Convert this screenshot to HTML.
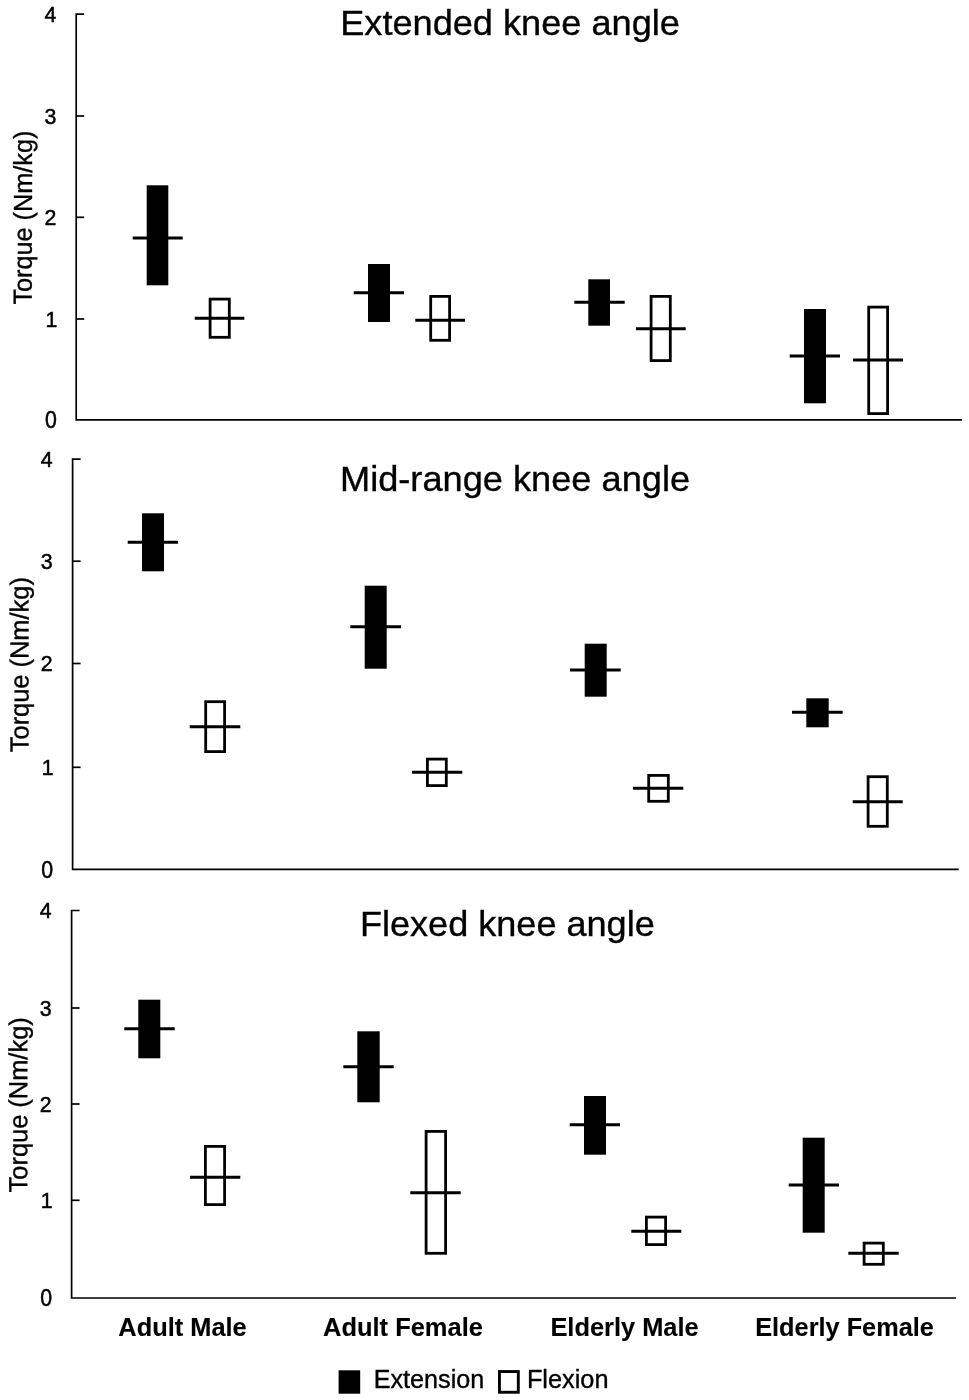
<!DOCTYPE html>
<html lang="en"><head><meta charset="utf-8"><title>Knee torque by group</title>
<style>html,body{margin:0;padding:0;background:#fff}body{width:969px;height:1400px;overflow:hidden}svg{display:block}text{font-family:"Liberation Sans",Arial,Helvetica,sans-serif;fill:#000;stroke:#000;stroke-width:.35px}.t{font-size:35.2px}.k{font-size:22.3px;text-anchor:end;stroke-width:.5px}.y{font-size:26.2px;text-anchor:middle}.x{font-size:25px;font-weight:bold;stroke-width:.12px}.l{font-size:25px}.a{stroke:#000;stroke-width:1.7;fill:none}.m{stroke:#000;stroke-width:2.9}.b{fill:#000}.w{fill:#fff;stroke:#000;stroke-width:2.8}</style></head><body>
<svg width="969" height="1400" viewBox="0 0 969 1400">
<rect width="969" height="1400" fill="#fff"/>
<g>
<path class="a" d="M84.2 14.2H76.2V419.8H962"/>
<path class="a" d="M76.2 116H84.2"/>
<path class="a" d="M76.2 217.3H84.2"/>
<path class="a" d="M76.2 319H84.2"/>
<text class="k" x="56.3" y="22.2" textLength="11.85" lengthAdjust="spacingAndGlyphs">4</text>
<text class="k" x="56.3" y="124" textLength="11.85" lengthAdjust="spacingAndGlyphs">3</text>
<text class="k" x="56.3" y="225.3" textLength="11.85" lengthAdjust="spacingAndGlyphs">2</text>
<text class="k" x="57.3" y="327" textLength="11.85" lengthAdjust="spacingAndGlyphs">1</text>
<text class="k" style="font-size:23.5px" x="56.8" y="428.3" textLength="11.85" lengthAdjust="spacingAndGlyphs">0</text>
<text class="t" x="340.2" y="35.2" textLength="339.7" lengthAdjust="spacingAndGlyphs">Extended knee angle</text>
<text class="y" transform="translate(31.9 217.6) rotate(-89.93)" textLength="174" lengthAdjust="spacingAndGlyphs">Torque (Nm/kg)</text>
<rect class="b" x="146.7" y="185.3" width="21.6" height="100"/>
<path class="m" d="M132.7 238H182.7"/>
<rect class="b" x="368" y="264" width="22" height="58"/>
<path class="m" d="M353.7 292.7H404"/>
<rect class="b" x="588.3" y="279.3" width="21.7" height="46.4"/>
<path class="m" d="M574.3 302.3H624.7"/>
<rect class="b" x="804" y="309" width="22" height="94.3"/>
<path class="m" d="M789.7 356H840"/>
<rect class="w" x="210.1" y="299.1" width="19.2" height="38.2"/>
<path class="m" d="M194.7 318.3H244.3"/>
<rect class="w" x="430.7" y="296.4" width="18.9" height="43.9"/>
<path class="m" d="M415.3 320.3H465"/>
<rect class="w" x="651.1" y="296.4" width="19.2" height="64.2"/>
<path class="m" d="M636 328.7H685.7"/>
<rect class="w" x="868.7" y="307.1" width="18.9" height="106.5"/>
<path class="m" d="M853 360H903"/>
</g>
<g>
<path class="a" d="M80.6 459.1H72.6V869.4H958.7"/>
<path class="a" d="M72.6 561.2H80.6"/>
<path class="a" d="M72.6 663.5H80.6"/>
<path class="a" d="M72.6 767.3H80.6"/>
<text class="k" x="52.7" y="467.05" textLength="11.85" lengthAdjust="spacingAndGlyphs">4</text>
<text class="k" x="52.7" y="569.15" textLength="11.85" lengthAdjust="spacingAndGlyphs">3</text>
<text class="k" x="52.7" y="671.45" textLength="11.85" lengthAdjust="spacingAndGlyphs">2</text>
<text class="k" x="53.7" y="775.25" textLength="11.85" lengthAdjust="spacingAndGlyphs">1</text>
<text class="k" style="font-size:23.5px" x="53.2" y="877.85" textLength="11.85" lengthAdjust="spacingAndGlyphs">0</text>
<text class="t" x="340" y="490.7" textLength="350.1" lengthAdjust="spacingAndGlyphs">Mid-range knee angle</text>
<text class="y" transform="translate(28.5 664.65) rotate(-89.93)" textLength="175.1" lengthAdjust="spacingAndGlyphs">Torque (Nm/kg)</text>
<rect class="b" x="142" y="513.3" width="22" height="58"/>
<path class="m" d="M127.7 542.3H178"/>
<rect class="b" x="364.7" y="585.7" width="22" height="83"/>
<path class="m" d="M350.3 626.7H401"/>
<rect class="b" x="584.7" y="643.7" width="22" height="53"/>
<path class="m" d="M570 670H620.7"/>
<rect class="b" x="806.3" y="698.3" width="22.4" height="29"/>
<path class="m" d="M792 712.3H842.7"/>
<rect class="w" x="205.7" y="701.7" width="18.9" height="49.9"/>
<path class="m" d="M189.7 726.7H240.3"/>
<rect class="w" x="427.4" y="759.1" width="18.9" height="26.5"/>
<path class="m" d="M412 772.3H462.3"/>
<rect class="w" x="648.7" y="775.4" width="19.6" height="25.9"/>
<path class="m" d="M633 788.3H683.3"/>
<rect class="w" x="868.1" y="776.7" width="19.2" height="49.6"/>
<path class="m" d="M852.7 801.7H902.7"/>
</g>
<g>
<path class="a" d="M79.6 910.5H71.6V1298H956"/>
<path class="a" d="M71.6 1008H79.6"/>
<path class="a" d="M71.6 1104H79.6"/>
<path class="a" d="M71.6 1200.3H79.6"/>
<text class="k" x="51.7" y="918.3" textLength="11.85" lengthAdjust="spacingAndGlyphs">4</text>
<text class="k" x="51.7" y="1015.8" textLength="11.85" lengthAdjust="spacingAndGlyphs">3</text>
<text class="k" x="51.7" y="1111.8" textLength="11.85" lengthAdjust="spacingAndGlyphs">2</text>
<text class="k" x="52.7" y="1208.1" textLength="11.85" lengthAdjust="spacingAndGlyphs">1</text>
<text class="k" style="font-size:23.5px" x="52.2" y="1306.3" textLength="11.85" lengthAdjust="spacingAndGlyphs">0</text>
<text class="t" x="359.9" y="936" textLength="294.9" lengthAdjust="spacingAndGlyphs">Flexed knee angle</text>
<text class="y" transform="translate(27.3 1104.85) rotate(-89.93)" textLength="175.15" lengthAdjust="spacingAndGlyphs">Torque (Nm/kg)</text>
<rect class="b" x="138.3" y="999.7" width="22" height="58.6"/>
<path class="m" d="M124.3 1028.7H174.7"/>
<rect class="b" x="357.3" y="1031.3" width="22.4" height="71"/>
<path class="m" d="M343.3 1066.7H393.7"/>
<rect class="b" x="584" y="1096" width="22" height="58.7"/>
<path class="m" d="M569.7 1124.7H620"/>
<rect class="b" x="802.7" y="1137.7" width="22" height="95"/>
<path class="m" d="M788.7 1185H839"/>
<rect class="w" x="205.4" y="1146.4" width="19.2" height="58.2"/>
<path class="m" d="M190 1177.3H240.3"/>
<rect class="w" x="426.1" y="1131.4" width="19.5" height="121.9"/>
<path class="m" d="M410.3 1192.7H460.7"/>
<rect class="w" x="646.4" y="1217.1" width="19.2" height="27.5"/>
<path class="m" d="M631.3 1231.2H681.3"/>
<rect class="w" x="864.1" y="1243.1" width="19.2" height="21.2"/>
<path class="m" d="M848.3 1253.3H898.7"/>
</g>
<text class="x" x="118.3" y="1336" textLength="128.4" lengthAdjust="spacingAndGlyphs">Adult Male</text>
<text class="x" x="323" y="1336" textLength="159.9" lengthAdjust="spacingAndGlyphs">Adult Female</text>
<text class="x" x="550.4" y="1336" textLength="148.3" lengthAdjust="spacingAndGlyphs">Elderly Male</text>
<text class="x" x="755.2" y="1336" textLength="178.7" lengthAdjust="spacingAndGlyphs">Elderly Female</text>
<rect class="b" x="338.6" y="1370.3" width="21.6" height="23.4"/>
<text class="l" x="373.7" y="1387.5" textLength="110.6" lengthAdjust="spacingAndGlyphs">Extension</text>
<rect class="w" style="stroke-width:2.9" x="499.45" y="1371.55" width="18.85" height="20.7"/>
<text class="l" x="526.9" y="1387.6" textLength="81.6" lengthAdjust="spacingAndGlyphs">Flexion</text>
</svg></body></html>
